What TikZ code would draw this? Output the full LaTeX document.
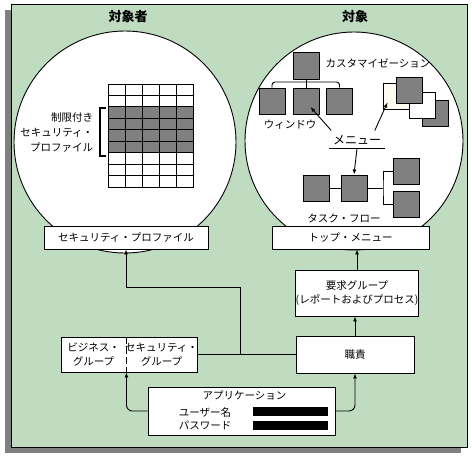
\documentclass[tikz,border=0pt]{standalone}
\usepackage{fontspec}
\setmainfont{Noto Sans CJK JP}
\usetikzlibrary{arrows.meta,positioning}
\definecolor{bggreen}{HTML}{C0DCC0}
\definecolor{pale}{HTML}{FFFBF0}

\begin{document}
\begin{tikzpicture}[
  x=1pt, y=-1pt,
  line width=0.9pt,
  every node/.style={font=\fontsize{10.5}{14}\selectfont},
  box/.style={draw, fill=white, align=center, inner sep=0pt},
  win/.style={draw, fill=gray, minimum width=26pt, minimum height=26pt, inner sep=0pt},
  bar/.style={fill=black, minimum width=75pt, minimum height=9pt, inner sep=0pt},
  title/.style={font=\fontsize{13}{14}\selectfont\bfseries},
  arrow/.style={-{Latex[length=5pt,width=4pt]}}
]
\useasboundingbox (0,0) rectangle (472,456);
\fill[gray] (5,10) rectangle (461,453);
\draw[fill=bggreen] (11,4) rectangle (467,447);

\node[title] (subj) at (128,17) {対象者};
\node[title] (obj) at (355,17) {対象};

\node[circle, draw, fill=white, minimum size=222pt] (lcirc) at (125,142) {};
\node[circle, draw, fill=white, minimum size=218pt] (rcirc) at (354,141) {};

\foreach \r/\f in {0/white,1/white,2/gray,3/gray,4/gray,5/gray,6/white,7/white,8/white}
  \foreach \c in {0,...,4}
    \draw[fill=\f] ({108+17*\c},{84+11.44*\r}) rectangle ++(17,11.44);
\draw[line width=2pt] (106,108) -- (100,108) -- (100,156) -- (106,156);
\node[anchor=east, align=right, font=\fontsize{10.5}{15}\selectfont] (restrict) at (97,133) {制限付き\\セキュリティ・\\プロファイル};

\node[win, minimum height=27pt] (wtop) at (306.5,65.5) {};
\node[win] (w1) at (272,101) {};
\node[win] (w2) at (306.5,101) {};
\node[win] (w3) at (339.5,101) {};
\coordinate (tj) at (306.5,82);
\draw[rounded corners=3pt] (w1.north) |- (tj) -| (w3.north);
\draw (wtop.south) -- (w2.north);
\node (winlbl) at (290,125) {ウィンドウ};

\node (custlbl) at (378,63) {カスタマイゼーション};
\node[win] (c4) at (435,113) {};
\node[win, fill=white] (c3) at (422,105.5) {};
\node[win, fill=pale] (c1) at (396.5,96.5) {};
\node[win] (c2) at (409.5,90) {};

\node[font=\fontsize{12}{14}\selectfont] (menu) at (357,140) {メニュー};
\draw (menu.south west) -- (menu.south east);
\draw[arrow] ([shift={(2,-1)}]menu.north west) -- ([shift={(4,6)}]w2.center);
\draw[arrow] ([shift={(-10,-1)}]menu.north east) -- ([shift={(-9,6)}]c1.center);

\node[win] (t1) at (316,188) {};
\node[win] (t2) at (354,188) {};
\node[win] (t3) at (406.5,171) {};
\node[win] (t4) at (406.5,204) {};
\coordinate (tb) at (383,188);
\draw (t1.east) -- (t2.west);
\draw (t2.east) -- (tb);
\draw (t3.west) -| (tb) |- (t4.west);
\draw[arrow] (menu.south) -- (t2.north);
\node (tasklbl) at (344,218) {タスク・フロー};

\node[box, minimum width=164pt, minimum height=23pt] (secprof) at (126,237.5) {セキュリティ・プロファイル};
\node[box, minimum width=157pt, minimum height=23pt] (topmenu) at (350.5,237.5) {トップ・メニュー};
\node[box, minimum width=122pt, minimum height=46pt] (req) at (357,293) {要求グループ\\(レポートおよびプロセス)};
\node[box, minimum width=118pt, minimum height=37pt] (resp) at (355,354.5) {職責};

\coordinate (grpnw) at (61,337);
\coordinate (grpse) at (197,372);
\draw[fill=white] (grpnw) rectangle (grpse);
\node[align=center, minimum width=65pt, minimum height=35pt, inner sep=0pt] (biz) at (93.5,354.5) {ビジネス・\\グループ};
\node[align=center, minimum width=71pt, minimum height=35pt, inner sep=0pt] (sec) at (161.5,354.5) {セキュリティ・\\グループ};
\draw[dash pattern=on 7pt off 3pt] (biz.north east) -- (biz.south east);

\node[box, minimum width=187pt, minimum height=48pt] (app) at (241.5,411) {};
\node (apptitle) at (244.5,395) {アプリケーション};
\node (user) at (205,412) {ユーザー名};
\node (pass) at (205,425.5) {パスワード};
\node[bar] (userbar) at (290.5,411.5) {};
\node[bar] (passbar) at (290.5,425.5) {};

\coordinate (jn) at (240,354.5);
\coordinate (bend) at (240,287);
\draw (sec.east) -- (resp.west);
\draw[arrow] (jn) -- (bend) -| (secprof.south);
\draw[arrow] (resp.north) -- (resp.north |- req.south);
\draw[arrow] (req.north) -- (req.north |- topmenu.south);
\draw[arrow, rounded corners=6pt] (app.west) -| (biz.south east);
\draw[arrow, rounded corners=6pt] (app.east) -| (resp.south);
\end{tikzpicture}
\end{document}
